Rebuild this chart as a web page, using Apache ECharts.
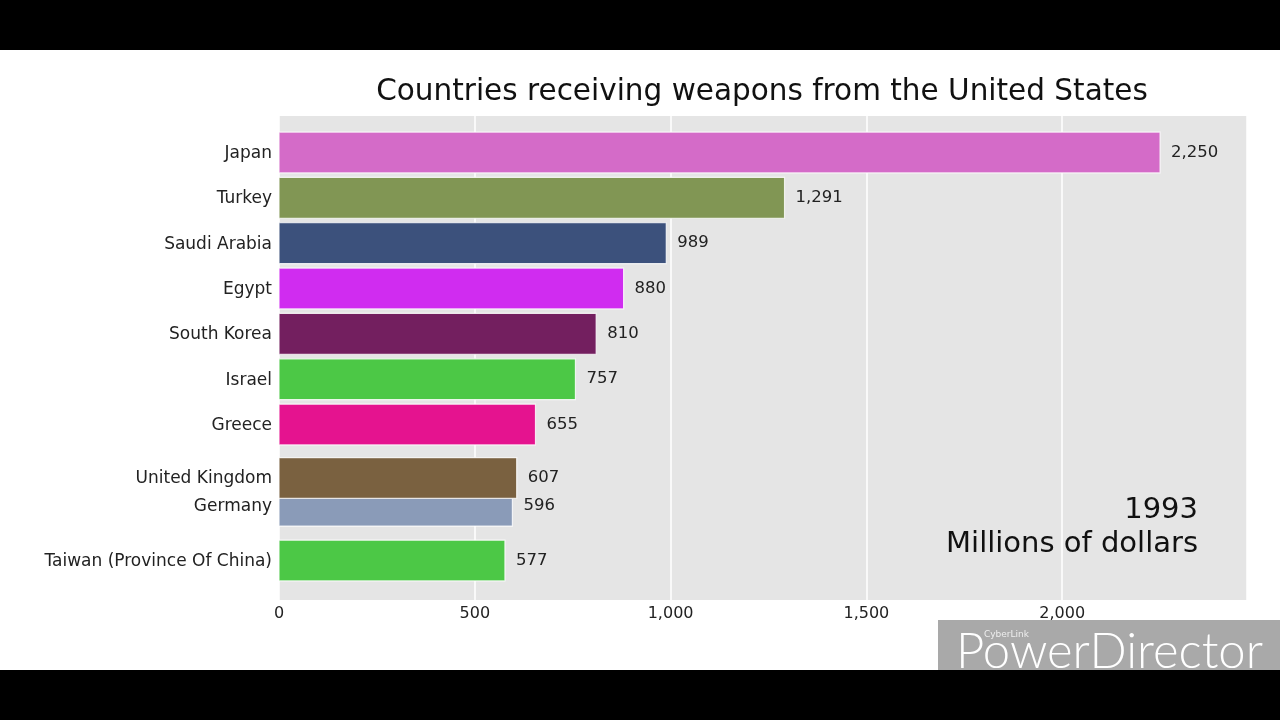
<!DOCTYPE html>
<html>
<head>
<meta charset="utf-8">
<script src="https://cdn.jsdelivr.net/npm/echarts@6/dist/echarts.min.js"></script>
<style>html,body{margin:0;padding:0;background:#fff;}#chart{width:1280px;height:720px;}</style>
</head>
<body>
<div id="chart"></div>
<script>
const countries = ["Japan","Turkey","Saudi Arabia","Egypt","South Korea","Israel","Greece","United Kingdom","Germany","Taiwan (Province Of China)"];
const values = [2250,1291,989,880,810,757,655,607,596,577];
// animated-frame rank positions (fractional while countries swap places)
const ranks = [0,1,2,3,4,5,6,7.18,7.79,9];
const colors = ["#D46BC8","#819654","#3C517C","#D02CF0","#731F5F","#4CC846","#E5138F","#7A6140","#8A9BB8","#4CC846"];
const xTicks = [0,500,1000,1500,2000];
const yearLabel = "1993";
const unitLabel = "Millions of dollars";
const titleText = "Countries receiving weapons from the United States";

const FONT = "DejaVu Sans";
const fmt = v => v.toLocaleString('en-US');
const barHeight = 0.9;

const chart = echarts.init(document.getElementById('chart'), null, {renderer:'canvas'});
chart.setOption({
  animation:false,
  backgroundColor:'#fff',
  title:{text:titleText,left:757,top:72,textAlign:'center',
    textStyle:{fontFamily:FONT,fontSize:29.5,fontWeight:'normal',color:'#111'}},
  grid:{left:279,right:33,top:116,bottom:120,show:true,backgroundColor:'#E5E5E5',borderWidth:0},
  xAxis:{type:'value',min:0,max:2472,interval:500,
    axisLine:{show:false},axisTick:{show:false},
    axisLabel:{margin:6,fontFamily:FONT,fontSize:16,color:'#222',
      formatter:v=> xTicks.indexOf(v)>=0 ? fmt(v) : ''},
    splitLine:{show:true,lineStyle:{color:'#fff',width:1.5}}},
  yAxis:{type:'value',inverse:true,min:-0.805,max:9.87,show:false,splitLine:{show:false}},
  series:[{
    type:'custom',
    clip:false,
    data: values.map((v,i)=>[v,ranks[i]]),
    renderItem:(params,api)=>{
      const i = params.dataIndex;
      const v = api.value(0), r = api.value(1);
      const s = api.coord([0,r]);
      const e = api.coord([v,r]);
      const h = api.size([0,barHeight])[1];
      return {type:'group',children:[
        {type:'rect',z2:20-i,shape:{x:s[0],y:s[1]-h/2,width:e[0]-s[0],height:h},
          style:{fill:colors[i],stroke:'rgba(255,255,255,0.8)',lineWidth:1.2}},
        {type:'text',z2:60,style:{text:countries[i],x:s[0]-7,y:s[1]+1,align:'right',verticalAlign:'middle',
          fill:'#222',font:'17px "'+FONT+'"'}},
        {type:'text',z2:60,style:{text:fmt(v),x:e[0]+11,y:s[1],align:'left',verticalAlign:'middle',
          fill:'#222',font:'16.5px "'+FONT+'"'}}
      ]};
    }
  }],
  graphic:[
    {type:'rect',left:0,top:0,shape:{width:1280,height:50},style:{fill:'#000'},z:100},
    {type:'rect',left:0,top:670,shape:{width:1280,height:50},style:{fill:'#000'},z:100},
    {type:'text',right:82,top:496,style:{text:yearLabel,font:'29px "'+FONT+'"',fill:'#111',align:'right'},z:50},
    {type:'text',right:82,top:530,style:{text:unitLabel,font:'29px "'+FONT+'"',fill:'#111',align:'right'},z:50},
    {type:'rect',left:938,top:620,shape:{width:342,height:50},style:{fill:'rgba(160,160,160,0.9)'},z:90},
    {type:'text',left:956,top:628,style:{text:'PowerDirector',font:'300 49px Lato',fill:'#fff'},z:91},
    {type:'text',left:984,top:630,style:{text:'CyberLink',font:'9px "'+FONT+'"',fill:'#eee'},z:92}
  ]
});
</script>
</body>
</html>
